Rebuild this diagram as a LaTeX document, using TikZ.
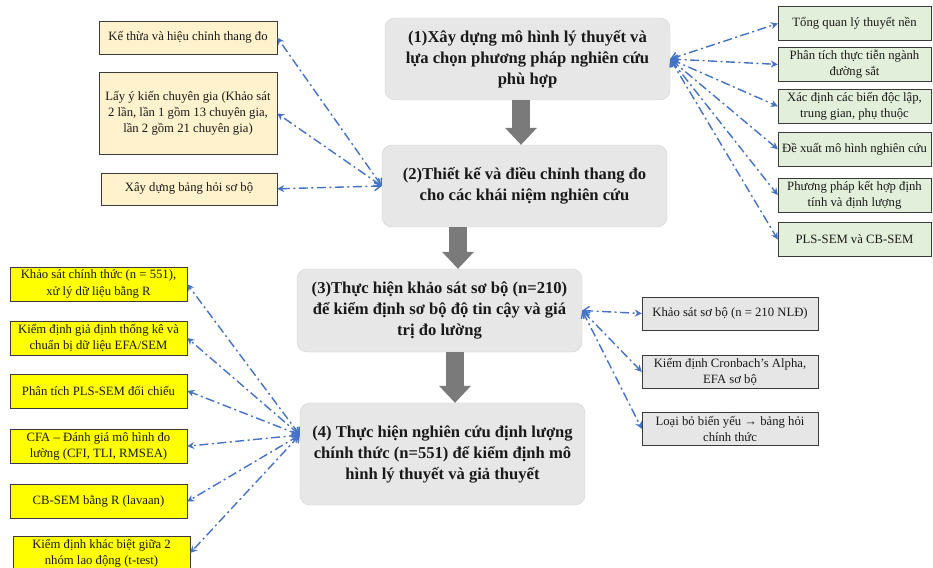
\documentclass[tikz,border=0pt]{standalone}
\usepackage{fontspec}
\setmainfont{Liberation Serif}
\usepackage{xcolor}
\usetikzlibrary{arrows.meta,positioning}
\definecolor{stagefill}{HTML}{E7E7E7}
\definecolor{stageline}{HTML}{D2D2D2}
\definecolor{noteline}{HTML}{3A3A3A}
\definecolor{beige}{HTML}{FFF2CC}
\definecolor{mint}{HTML}{E2EFDA}
\definecolor{pilotfill}{HTML}{E6E6E6}
\definecolor{brightyellow}{HTML}{FFFF00}
\definecolor{linkblue}{HTML}{4472C4}
\definecolor{flowgray}{HTML}{7A7A7A}
\tikzstyle{stage} = [
    rectangle,
    rounded corners=3.5mm,
    minimum width=285pt,
    minimum height=82pt,
    align=center,
    draw=stageline,
    fill=stagefill,
    font=\fontsize{16.6}{21}\selectfont\bfseries
]
\tikzstyle{note} = [
    rectangle,
    minimum width=177pt,
    minimum height=34pt,
    inner sep=1.5pt,
    align=center,
    draw=noteline,
    font=\fontsize{12.7}{16.3}\selectfont
]
\tikzstyle{link} = [
    draw=linkblue,
    line width=1.4pt,
    dash pattern=on 9pt off 3.5pt on 2pt off 3.5pt,
    {Straight Barb[length=6pt,width=9pt]}-{Stealth[length=7pt,width=7pt]}
]
\tikzstyle{flow} = [
    draw=flowgray,
    line width=18pt,
    -{Triangle[width=32pt,length=17pt,line width=0pt]}
]
\begin{document}
\begin{tikzpicture}[
        x=1pt, y=-1pt,
        node distance=18pt,
        every node/.style={
            text=black!90
        }
    ]
        \useasboundingbox (0,0) rectangle (933,567);

        % main stages
        \node[stage] (stage1) at (527.5,59) {(1)Xây dựng mô hình lý thuyết và\\lựa chọn phương pháp nghiên cứu\\phù hợp};
        \node[stage] (stage2) at (524.5,186) {(2)Thiết kế và điều chỉnh thang đo\\cho các khái niệm nghiên cứu};
        \node[stage, minimum height=83pt] (stage3) at (439.5,310.5) {(3)Thực hiện khảo sát sơ bộ (n=210)\\để kiểm định sơ bộ độ tin cậy và giá\\trị đo lường};
        \node[stage, minimum height=102pt] (stage4) at (442.5,454) {(4) Thực hiện nghiên cứu định lượng\\chính thức (n=551) để kiểm định mô\\hình lý thuyết và giả thuyết};

        \coordinate (f12) at (521,0);
        \coordinate (f23) at (458,0);
        \coordinate (f34) at (455,0);
        \draw[flow] (stage1.south -| f12) -- (stage2.north -| f12);
        \draw[flow] (stage2.south -| f23) -- (stage3.north -| f23);
        \draw[flow] (stage3.south -| f34) -- (stage4.north -| f34);

        % scale design (stage 2)
        \node[note, fill=beige, minimum width=178pt, minimum height=33pt] (adapt) at (188,37.5) {Kế thừa và hiệu chỉnh thang đo};
        \node[note, fill=beige, minimum width=178pt, minimum height=82pt, below=18pt of adapt] (expert) {Lấy ý kiến chuyên gia (Khảo sát\\2 lần, lần 1 gồm 13 chuyên gia,\\lần 2 gồm 21 chuyên gia)};
        \node[note, fill=beige, minimum width=176pt, minimum height=32pt, below=18pt of expert, xshift=1pt] (draft) {Xây dựng bảng hỏi sơ bộ};

        % theory (stage 1)
        \node[note, fill=mint, minimum width=153pt] (theory) at (854.5,23.5) {Tổng quan lý thuyết nền};
        \node[note, fill=mint, minimum width=153pt, below=6.5pt of theory] (practice) {Phân tích thực tiễn ngành\\đường sắt};
        \node[note, fill=mint, minimum width=153pt, below=7.5pt of practice] (variables) {Xác định các biến độc lập,\\trung gian, phụ thuộc};
        \node[note, fill=mint, minimum width=153pt, below=8.5pt of variables] (proposal) {Đề xuất mô hình nghiên cứu};
        \node[note, fill=mint, minimum width=153pt, below=11.5pt of proposal] (mixed) {Phương pháp kết hợp định\\tính và định lượng};
        \node[note, fill=mint, minimum width=153pt, below=10pt of mixed] (sem) {PLS-SEM và CB-SEM};

        % pilot survey (stage 3)
        \node[note, fill=pilotfill, minimum width=176pt, minimum height=33pt] (pilot) at (730,313.5) {Khảo sát sơ bộ (n = 210 NLĐ)};
        \node[note, fill=pilotfill, minimum width=176pt, minimum height=33pt, below=25pt of pilot] (alpha) {Kiểm định Cronbach’s Alpha,\\EFA sơ bộ};
        \node[note, fill=pilotfill, minimum width=176pt, minimum height=33pt, below=23.5pt of alpha] (drop) {Loại bỏ biến yếu → bảng hỏi\\chính thức};

        % main survey (stage 4)
        \node[note, fill=brightyellow] (survey) at (98.5,284) {Khảo sát chính thức (n = 551),\\xử lý dữ liệu bằng R};
        \node[note, fill=brightyellow, below=19.5pt of survey] (assume) {Kiểm định giả định thống kê và\\chuẩn bị dữ liệu EFA/SEM};
        \node[note, fill=brightyellow, below=18.5pt of assume] (pls) {Phân tích PLS-SEM đối chiếu};
        \node[note, fill=brightyellow, below=21pt of pls] (cfa) {CFA – Đánh giá mô hình đo\\lường (CFI, TLI, RMSEA)};
        \node[note, fill=brightyellow, below=21pt of cfa] (cbsem) {CB-SEM bằng R (lavaan)};
        \node[note, fill=brightyellow, below=17pt of cbsem, xshift=3pt] (ttest) {Kiểm định khác biệt giữa 2\\nhóm lao động (t-test)};

        \coordinate (hub4) at ([yshift=19pt]stage4.west);

        \draw[link] (stage2.west) -- (adapt.east);
        \draw[link] (stage2.west) -- (expert.east);
        \draw[link] (stage2.west) -- (draft.east);

        \draw[link] (stage1.east) -- (theory.west);
        \draw[link] (stage1.east) -- (practice.west);
        \draw[link] (stage1.east) -- (variables.west);
        \draw[link] (stage1.east) -- (proposal.west);
        \draw[link] (stage1.east) -- (mixed.west);
        \draw[link] (stage1.east) -- (sem.west);

        \draw[link] (stage3.east) -- (pilot.west);
        \draw[link] (stage3.east) -- (alpha.west);
        \draw[link] (stage3.east) -- (drop.west);

        \draw[link] (hub4) -- (survey.east);
        \draw[link] (hub4) -- (assume.east);
        \draw[link] (hub4) -- (pls.east);
        \draw[link] (hub4) -- (cfa.east);
        \draw[link] (hub4) -- (cbsem.east);
        \draw[link] (hub4) -- (ttest.east);
    \end{tikzpicture}
\end{document}
